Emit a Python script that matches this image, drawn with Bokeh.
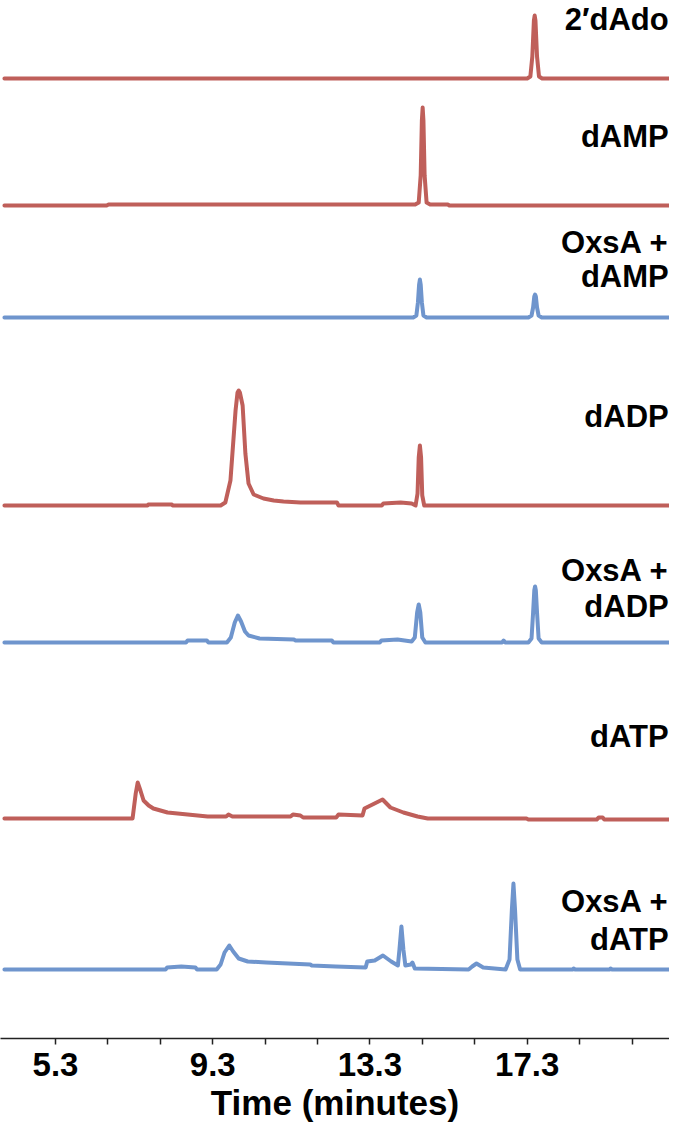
from bokeh.plotting import figure
from bokeh.models import Range1d, FixedTicker, Label
from bokeh.embed import file_html
from bokeh.resources import INLINE

# ---------------- data ----------------
SAMPLES = ["2′dAdo", "dAMP", "OxsA + dAMP", "dADP", "OxsA + dADP", "dATP", "OxsA + dATP"]
LABEL_LINES = [["2′dAdo"], ["dAMP"], ["OxsA +", "dAMP"], ["dADP"],
               ["OxsA +", "dADP"], ["dATP"], ["OxsA +", "dATP"]]
ENZYME = [False, False, True, False, True, False, True]

TICKS = [5.3, 6.633, 7.967, 9.3, 10.633, 11.967, 13.3, 14.633, 15.967, 17.3, 18.633, 19.967]
TICK_LABELS = ["5.3", "", "", "9.3", "", "", "13.3", "", "", "17.3", "", ""]
X_TITLE = "Time (minutes)"

# retention time (minutes) and absorbance (arbitrary units)
T_DADO = [4.00, 17.30, 17.38, 17.43, 17.47, 17.49, 17.51, 17.55, 17.60, 17.68, 20.90]
I_DADO = [0, 0, 2, 22, 58, 63, 58, 22, 2, 0, 0]

T_DAMP = [4.00, 6.60, 6.65, 14.45, 14.54, 14.59, 14.62, 14.64, 14.66, 14.69, 14.74, 14.83, 15.28, 15.32, 20.90]
I_DAMP = [0, 0, 1, 1, 3, 30, 85, 98, 85, 30, 3, 1, 1, 0, 0]

T_OX_DAMP = [4.00, 14.40, 14.48, 14.52, 14.55, 14.57, 14.59, 14.62, 14.66, 14.74,
             17.33, 17.41, 17.45, 17.48, 17.50, 17.52, 17.55, 17.59, 17.67, 20.90]
I_OX_DAMP = [0, 0, 2, 15, 33, 38, 33, 15, 2, 0,
             0, 2, 10, 21, 23, 21, 10, 2, 0, 0]

T_DADP = [4.00, 7.64, 7.66, 8.26, 8.28, 9.50, 9.62, 9.75, 9.88, 9.93, 9.96, 9.99, 10.06,
          10.13, 10.21, 10.34, 10.59, 10.85, 11.10, 11.53, 12.46, 12.50, 13.60, 13.64,
          14.08, 14.36, 14.46, 14.51, 14.54, 14.57, 14.60, 14.63, 14.68, 20.90]
I_DADP = [0, 0, 1, 1, 0, 0, 3, 25, 95, 113, 115, 113, 100,
          52, 22, 11, 7, 5, 4, 3, 3, 0, 0, 2,
          3, 2, 0, 12, 48, 60, 48, 10, 0, 0]

T_OX_DADP = [4.00, 8.62, 8.66, 9.15, 9.19, 9.66, 9.76, 9.86, 9.94, 10.02, 10.12, 10.21,
             10.49, 11.37, 11.40, 12.33, 12.37, 13.55, 13.59, 14.00, 14.36, 14.44, 14.50,
             14.54, 14.58, 14.63, 14.71, 16.66, 16.70, 16.74, 17.33, 17.41, 17.45, 17.48,
             17.50, 17.52, 17.55, 17.59, 17.67, 20.90]
I_OX_DADP = [0, 0, 2, 2, 0, 0, 5, 20, 27, 21, 11, 7,
             4, 3, 2, 2, 0, 0, 2, 3, 1, 5, 30,
             38, 30, 5, 0, 0, 2, 0, 0, 4, 30, 52,
             56, 52, 30, 4, 0, 0]

T_DATP = [4.00, 7.26, 7.34, 7.39, 7.46, 7.54, 7.67, 7.79, 8.15, 8.66, 9.17, 9.64, 9.70,
          9.80, 11.28, 11.34, 11.53, 11.60, 12.44, 12.50, 13.11, 13.16, 13.62, 13.82,
          14.15, 14.51, 14.77, 17.28, 17.33, 19.07, 19.12, 19.22, 19.26, 20.90]
I_DATP = [0, 0, 25, 36, 28, 18, 13, 10, 6, 4, 2, 2, 4,
          2, 2, 4, 3, 1, 1, 4, 3, 10, 19, 11,
          6, 2, 0, 0, -1, -1, 1, 1, -1, -1]

T_OX_DATP = [4.00, 8.10, 8.14, 8.50, 8.86, 8.90, 9.40, 9.50, 9.60, 9.72, 9.82, 9.96, 10.19,
             10.66, 11.78, 11.82, 12.43, 13.19, 13.23, 13.42, 13.63, 13.84, 14.01, 14.05,
             14.10, 14.15, 14.20, 14.34, 14.38, 14.44, 15.81, 15.90, 16.01, 16.18, 16.75,
             16.85, 16.91, 16.95, 16.99, 17.05, 17.12, 18.46, 18.48, 18.52, 19.40, 19.42,
             19.46, 20.90]
I_OX_DATP = [0, 0, 2, 3, 2, 0, 0, 5, 17, 24, 18, 11, 8,
             7, 5, 4, 3, 2, 8, 9, 14, 8, 4, 20,
             43, 20, 4, 5, 7, 1, 0, 3, 6, 2, 0,
             10, 60, 86, 60, 10, 0, 0, 1, 0, 0, 1,
             0, 0]

TIMES = [T_DADO, T_DAMP, T_OX_DAMP, T_DADP, T_OX_DADP, T_DATP, T_OX_DATP]
SIGNALS = [I_DADO, I_DAMP, I_OX_DAMP, I_DADP, I_OX_DADP, I_DATP, I_OX_DATP]

# ---------------- layout / style ----------------
OFFSETS = [960, 833, 721, 533, 396, 220, 69]          # vertical stacking of traces
LABEL_Y = [[1019], [902], [796, 762], [622], [468, 432], [302], [137, 99]]
RED = "#BF5F5A"
BLUE = "#6F95CD"
FONT = "Liberation Sans"

p = figure(width=669, height=1126, output_backend="svg", toolbar_location=None,
           x_range=Range1d(3.90, 20.92), y_range=Range1d(0, 1038),
           min_border_left=0, min_border_right=0, min_border_top=0, min_border_bottom=88,
           y_axis_location=None, title=None)
p.outline_line_color = None
p.xgrid.visible = False
p.ygrid.visible = False
p.background_fill_color = "white"
p.border_fill_color = "white"

for t, sig, off, enz in zip(TIMES, SIGNALS, OFFSETS, ENZYME):
    y = [off + v for v in sig]
    p.line(t, y, line_color=BLUE if enz else RED, line_width=4,
           line_join="round", line_cap="round")

for lines, ys in zip(LABEL_LINES, LABEL_Y):
    for txt, yy in zip(lines, ys):
        p.add_layout(Label(x=20.90, y=yy, text=txt, text_align="right",
                           text_baseline="alphabetic", text_font=FONT,
                           text_font_style="bold", text_font_size="31px",
                           text_color="black"))

ax = p.xaxis[0]
ax.ticker = FixedTicker(ticks=TICKS)
ax.major_label_overrides = {tk: lab for tk, lab in zip(TICKS, TICK_LABELS)}
ax.minor_tick_line_color = None
ax.major_tick_in = 0
ax.major_tick_out = 6
ax.major_tick_line_width = 1.5
ax.major_tick_line_color = "#222222"
ax.axis_line_width = 1.6
ax.axis_line_color = "#222222"
ax.major_label_standoff = 8
ax.major_label_text_font = FONT
ax.major_label_text_font_style = "bold"
ax.major_label_text_font_size = "33px"
ax.major_label_text_color = "black"
ax.axis_label = X_TITLE
ax.axis_label_standoff = 4
ax.axis_label_text_font = FONT
ax.axis_label_text_font_style = "bold"
ax.axis_label_text_font_size = "35px"
ax.axis_label_text_color = "black"

open("out.html", "w").write(file_html(p, INLINE))
